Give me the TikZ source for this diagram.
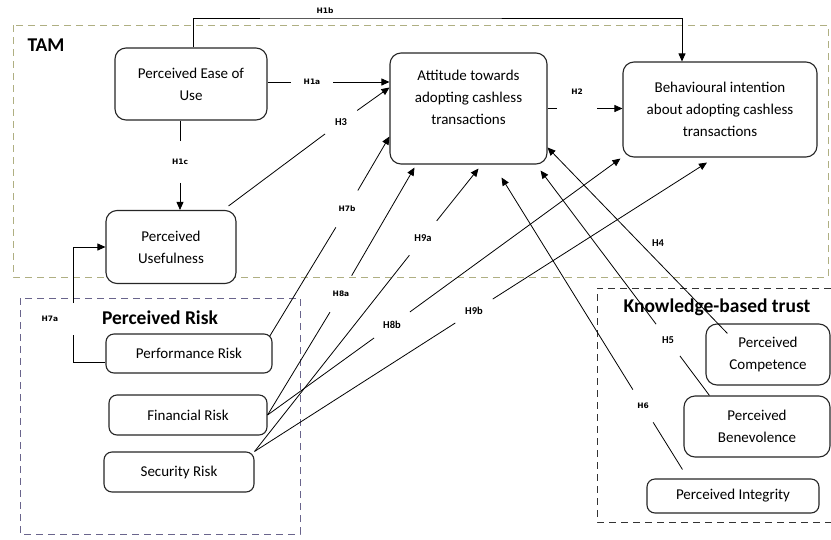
\documentclass[tikz,border=0pt]{standalone}
\usepackage{fontspec}
\setmainfont{Carlito}
\newfontfamily\hypfont{DejaVu Sans}
\usetikzlibrary{arrows.meta}
\definecolor{tamcol}{RGB}{175,175,130}
\definecolor{riskcol}{RGB}{105,100,140}
\tikzset{
  box/.style={draw=black!85, line width=1.1pt, rounded corners=11pt, fill=white, align=center, inner sep=2pt, font=\fontsize{15}{22}\selectfont},
  hyp/.style={circle, inner sep=9pt, font=\hypfont\bfseries\fontsize{7.5}{8}\selectfont},
  hypl/.style={hyp, font=\bfseries\fontsize{10.5}{11}\selectfont},
  grp/.style={font=\bfseries\fontsize{19.5}{20}\selectfont},
  frame/.style={line width=0.9pt, dash pattern=on 7pt off 5pt}
}
\begin{document}
\begin{tikzpicture}[x=1pt, y=-1pt, line width=0.8pt, >={Triangle[length=8pt,width=7pt]}]
\useasboundingbox (0,0) rectangle (831,539);
\draw[frame, draw=tamcol] (13,25) rectangle (828,277);
\draw[frame, draw=riskcol] (20,298) rectangle (300,534);
\draw[frame, draw=black!80] (831,288) -- (597,288) -- (597,522) -- (831,522);

\node[grp] (tam) at (46,45) {TAM};
\node[grp] (risk) at (160,318) {Perceived Risk};
\node[grp] (trust) at (717,307) {Knowledge-based trust};

\node[box, minimum width=152pt, minimum height=72pt] (peou) at (191,84) {Perceived Ease of\\Use};
\node[box, minimum width=130pt, minimum height=73pt] (pu) at (171,247) {Perceived\\Usefulness};
\node[box, minimum width=157pt, minimum height=111pt] (att) at (468.5,108.5) {Attitude towards\\adopting cashless\\transactions\\\mbox{}};
\node[box, minimum width=194pt, minimum height=95pt] (bi) at (720,109.5) {Behavioural intention\\about adopting cashless\\transactions};
\node[box, minimum width=166pt, minimum height=39pt, rounded corners=8pt] (perf) at (189,353.5) {Performance Risk};
\node[box, minimum width=158pt, minimum height=40pt, rounded corners=8pt] (fin) at (188,415) {Financial Risk};
\node[box, minimum width=150pt, minimum height=40pt, rounded corners=8pt] (sec) at (179,472) {Security Risk};
\node[box, minimum width=124pt, minimum height=61pt] (comp) at (768,354.5) {Perceived\\Competence};
\node[box, minimum width=146pt, minimum height=61pt] (bene) at (757,426.5) {Perceived\\Benevolence};
\node[box, minimum width=172pt, minimum height=34pt, rounded corners=8pt] (integ) at (733,496) {Perceived Integrity};

\node[hyp] (h1b) at (325,11) {H1b};
\draw[->] ([xshift=2pt]peou.north) |- ([yshift=-7pt]h1b.center) -| ([xshift=-38pt]bi.north);
\node[hyp] (h1a) at (312,82) {H1a};
\path (h1a) edge (h1a -| peou.east) edge[->] (h1a -| att.west);
\node[hyp] (h1c) at (180,162) {H1c};
\path (h1c) edge (h1c |- peou.south) edge[->] (h1c |- pu.north);
\node[hyp, minimum size=40pt] (h2) at (577,92) {H2};
\draw (att.east) -- (h2.west |- att.east);
\draw[->] (h2.east |- att.east) -- (bi.west |- att.east);
\node[hypl] (h3) at (341,122) {H3};
\path (h3) edge ([xshift=-8pt,yshift=4pt]pu.north east) edge[->] ([yshift=21pt]att.west);

\node[hyp] (h7a) at (50,319) {H7a};
\draw ([yshift=-9pt]perf.west) -| ([xshift=23pt,yshift=-16pt]h7a.center);
\draw[->] ([xshift=23pt,yshift=16pt]h7a.center) |- (pu.west);
\node[hyp] (h7b) at (347,209) {H7b};
\path (h7b) edge ([xshift=-3pt,yshift=-3pt]perf.north east) edge[->] ([yshift=-28pt]att.west);
\node[hyp] (h8a) at (341,294) {H8a};
\path (h8a) edge (fin.east) edge[->] ([xshift=-54pt,yshift=-3pt]att.south);
\node[hypl] (h8b) at (392,325) {H8b};
\path (h8b) edge (fin.east) edge[->] ([xshift=-2pt,yshift=-1pt]bi.south west);
\node[hypl] (h9a) at (423,238) {H9a};
\path (h9a) edge (sec.north east) edge[->] ([xshift=10pt,yshift=-4pt]att.south);
\node[hypl] (h9b) at (474,311) {H9b};
\path (h9b) edge (sec.north east) edge[->] ([xshift=-13pt,yshift=-5pt]bi.south);

\node[hypl] (h4) at (658,243) {H4};
\draw[->] ([xshift=22pt,yshift=-10pt]comp.north west) -- ([yshift=-39pt]att.east);
\node[hypl] (h5) at (668,340) {H5};
\path (h5) edge ([xshift=26pt]bene.north west) edge[->] ([xshift=-7pt,yshift=-6pt]att.south east);
\node[hyp] (h6) at (643,406) {H6};
\path (h6) edge ([xshift=36pt,yshift=9pt]integ.north west) edge[->] ([xshift=33pt,yshift=-13pt]att.south);
\end{tikzpicture}
\end{document}
